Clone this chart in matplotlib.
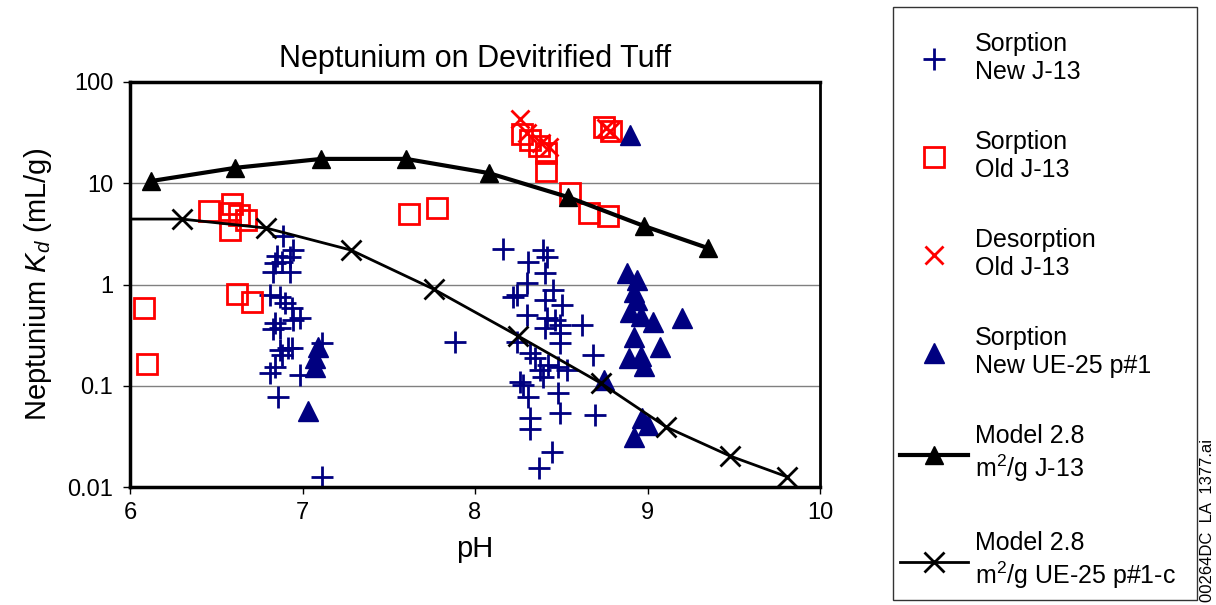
#
# Neptunium on devitrified tuff - Kd vs pH
#

import numpy as np
import matplotlib.pyplot as plt
from matplotlib.patches import Rectangle
from matplotlib.ticker import FixedLocator, FixedFormatter, NullLocator

plt.rcParams['font.family'] = ['Liberation Sans', 'DejaVu Sans']
plt.rcParams['mathtext.fontset'] = 'custom'
plt.rcParams['mathtext.rm'] = 'Liberation Sans'
plt.rcParams['mathtext.it'] = 'Liberation Sans:italic'

# Sorption, new J-13 (plus)
ph_new_j13 = [6.887, 6.945, 6.852, 6.928, 6.841, 6.928, 6.829, 6.881,
              6.812, 6.870, 6.899, 6.939, 6.986, 6.945, 6.841, 6.870, 6.829,
              6.916, 6.870, 6.939, 6.881, 6.841, 6.812, 6.986, 7.113, 6.858, 7.113,
              7.884,
              8.162, 8.394, 8.417, 8.307, 8.406, 8.301, 8.452, 8.243, 8.220, 8.406,
              8.504, 8.301, 8.417, 8.464, 8.493, 8.620, 8.406, 8.493, 8.493, 8.243,
              8.319, 8.348, 8.684, 8.423, 8.481, 8.377, 8.533, 8.394, 8.261, 8.278,
              8.481, 8.307, 8.493, 8.696, 8.319, 8.319, 8.446, 8.371]
kd_new_j13 = [3.01, 2.19, 1.91, 1.87, 1.63, 1.33, 1.33, 1.67,
              0.79, 0.75, 0.66, 0.59, 0.47, 0.45, 0.42, 0.37, 0.36,
              0.236, 0.225, 0.236, 0.20, 0.153, 0.134, 0.128, 0.264, 0.077, 0.0126,
              0.27,
              2.24, 2.19, 1.87, 1.67, 1.30, 1.03, 0.88, 0.79, 0.75, 0.70,
              0.63, 0.50, 0.47, 0.45, 0.40, 0.40, 0.37, 0.33, 0.264, 0.27,
              0.21, 0.19, 0.20, 0.16, 0.153, 0.143, 0.143, 0.122, 0.109, 0.102,
              0.085, 0.077, 0.054, 0.051, 0.048, 0.037, 0.022, 0.0154]

# Sorption, old J-13 (open squares)
ph_old_j13 = [6.08, 6.10, 6.46, 6.59, 6.58, 6.63, 6.67, 6.58, 6.62, 6.71,
              7.62, 7.78, 8.27, 8.32, 8.37, 8.41, 8.41, 8.75, 8.79, 8.55,
              8.66, 8.77]
kd_old_j13 = [0.58, 0.165, 5.3, 6.2, 5.1, 4.85, 4.3, 3.45, 0.80, 0.67,
              4.97, 5.7, 30.6, 26.7, 23.3, 19.9, 13.2, 36.0, 32.8, 8.0,
              5.1, 4.75]

# Desorption, old J-13 (red x)
ph_desorb = [8.26, 8.30, 8.38, 8.43, 8.76, 8.78]
kd_desorb = [43.0, 31.0, 25.0, 23.0, 35.0, 33.0]

# Sorption, new UE-25 p#1 (filled triangles)
ph_new_ue25 = [8.88, 8.94, 8.92, 8.94, 8.90, 8.96, 9.03, 9.20, 8.92, 9.07,
               8.89, 8.96, 8.98, 8.75, 8.97, 9.00, 8.92, 8.90,
               7.09, 7.07, 7.07, 7.03]
kd_new_ue25 = [1.30, 1.11, 0.84, 0.70, 0.53, 0.49, 0.43, 0.47, 0.30, 0.24,
               0.19, 0.197, 0.157, 0.114, 0.048, 0.041, 0.031, 30.0,
               0.24, 0.19, 0.153, 0.056]

# Model 2.8 m2/g J-13
ph_model_j13 = [6.12, 6.61, 7.11, 7.60, 8.08, 8.54, 8.98, 9.35]
kd_model_j13 = [10.5, 14.2, 17.4, 17.4, 12.6, 7.3, 3.78, 2.29]

# Model 2.8 m2/g UE-25 p#1-c (line starts at pH 6, markers from 6.3)
ph_model_ue25 = [6.00, 6.30, 6.79, 7.28, 7.76, 8.25, 8.73, 9.11, 9.48, 9.81]
kd_model_ue25 = [4.43, 4.43, 3.61, 2.19, 0.90, 0.31, 0.106, 0.039, 0.0202, 0.0126]

navy = '#000080'

fig = plt.figure(figsize=(12.16, 6.05), dpi=100)
ax = fig.add_axes([130 / 1216, 118 / 605, 690 / 1216, 405 / 605])

ax.plot(ph_new_j13, kd_new_j13, linestyle='none', marker='+', ms=16, mew=2,
        color=navy, label='Sorption\nNew J-13')
ax.plot(ph_old_j13, kd_old_j13, linestyle='none', marker='s', ms=15, mew=2,
        mfc='none', mec='red', label='Sorption\nOld J-13')
ax.plot(ph_desorb, kd_desorb, linestyle='none', marker='x', ms=13, mew=2,
        color='red', label='Desorption\nOld J-13')
ax.plot(ph_new_ue25, kd_new_ue25, linestyle='none', marker='^', ms=15,
        color=navy, label='Sorption\nNew UE-25 p#1')
ax.plot(ph_model_j13, kd_model_j13, color='black', lw=3, marker='^', ms=13,
        label='Model 2.8\nm$^2$/g J-13')
ax.plot(ph_model_ue25, kd_model_ue25, color='black', lw=2, zorder=3)
ax.plot(ph_model_ue25[1:], kd_model_ue25[1:], linestyle='none', marker='x',
        ms=15, mew=2, color='black', zorder=3)
# legend proxy for the second model
ax.plot([], [], color='black', lw=2, marker='x', ms=15, mew=2,
        label='Model 2.8\nm$^2$/g UE-25 p#1-c')

ax.set_yscale('log')
ax.set_xlim(6, 10)
ax.set_ylim(0.01, 100)
ax.set_xticks([6, 7, 8, 9, 10])
ax.yaxis.set_major_locator(FixedLocator([0.01, 0.1, 1, 10, 100]))
ax.yaxis.set_major_formatter(FixedFormatter(['0.01', '0.1', '1', '10', '100']))
ax.yaxis.set_minor_locator(NullLocator())
ax.grid(axis='y', color='#808080', lw=1)
ax.set_axisbelow(True)
ax.tick_params(labelsize=17, direction='out', length=5, width=1)
ax.tick_params(axis='y', pad=7)
ax.tick_params(axis='x', pad=6)

for side in ['left', 'bottom', 'top']:
    ax.spines[side].set_linewidth(2.5)
ax.spines['right'].set_linewidth(2)

ax.set_xlabel('pH', fontsize=21, labelpad=8)
ax.set_ylabel('Neptunium $K_d$ (mL/g)', fontsize=21, labelpad=10)
ax.set_title('Neptunium on Devitrified Tuff', fontsize=22, pad=11)

# legend box
fig.add_artist(Rectangle((893 / 1216, 5 / 605), 304 / 1216, 593 / 605,
                         transform=fig.transFigure, fill=False,
                         edgecolor='#333333', lw=1))
leg = fig.legend(loc='upper left', bbox_to_anchor=(900 / 1216, 573 / 605),
                 fontsize=18, frameon=False,
                 handlelength=2.7, handletextpad=0.3, labelspacing=1.85,
                 borderpad=0, borderaxespad=0)

fig.text(1207 / 1216, 3 / 605, '00264DC  LA  1377.ai', rotation=90,
         fontsize=12, ha='center', va='bottom')

plt.savefig('out.png', dpi=100)
